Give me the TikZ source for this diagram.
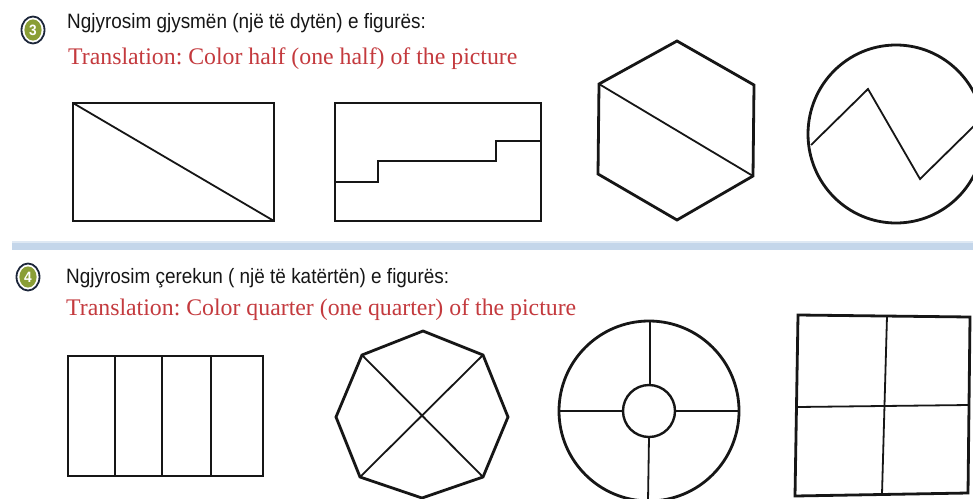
\documentclass[tikz,border=0pt]{standalone}
\usepackage{fontspec}
\setmainfont{Liberation Serif}
\setsansfont{Liberation Sans}[FakeStretch=0.91]
\definecolor{inkred}{RGB}{196,58,62}
\definecolor{inkblack}{RGB}{22,22,22}
\definecolor{badgegreen}{RGB}{138,158,54}
\definecolor{badgering}{RGB}{28,38,58}
\definecolor{bandblue}{RGB}{196,214,234}
\definecolor{bandlight}{RGB}{222,232,243}
\frenchspacing
\begin{document}
\begin{tikzpicture}[x=1pt,y=-1pt,
  outline/.style={draw=inkblack,line width=2.8pt,line join=miter},
  divline/.style={draw=inkblack,line width=1.8pt},
  blacktxt/.style={anchor=base west,inner sep=0pt,text=inkblack,font=\sffamily\fontsize{20.8}{23}\selectfont},
  redtxt/.style={anchor=base west,inner sep=0pt,text=inkred,font=\rmfamily\fontsize{23.8}{26}\selectfont},
  digit/.style={inner sep=0pt,text=white,font=\sffamily\bfseries\fontsize{15}{16}\selectfont}]
\useasboundingbox (0,0) rectangle (973,498);
\fill[white] (0,0) rectangle (973,498);
\begin{scope}
\clip (0,0) rectangle (973,498);

% ---------- exercise 3 ----------
\draw[fill=white,draw=badgering,line width=1.8pt] (33,30) ellipse [x radius=11.5, y radius=13.5];
\fill[badgegreen] (33,30) ellipse [x radius=8.6, y radius=10.6];
\node[digit] (b3) at (33,30) {3};
\node[blacktxt] (t3) at (67,28) {Ngjyrosim gjysmën (një të dytën) e figurës:};
\node[redtxt] (r3) at (68,64) {Translation: Color half (one half) of the picture};

% rectangle with diagonal
\draw[outline] (73,103) rectangle (274,221);
\draw[divline] (73,103) -- (274,221);
% rectangle with step line
\draw[outline] (335,103) rectangle (541,221);
\draw[divline] (335,182) -- (378,182) -- (378,161) -- (496,161) -- (496,141) -- (541,141);
% hexagon
\draw[outline] (677,41) -- (754,85) -- (753,176) -- (677,220) -- (598,174) -- (599,84) -- cycle;
\draw[divline] (599,84) -- (753,176);
% circle with zigzag
\draw[outline] (896,134) ellipse [x radius=88, y radius=89];
\draw[divline,line join=miter] (811,145) -- (868,89) -- (920,179) -- (976,124);

% ---------- separator ----------
\fill[bandblue] (12,241) rectangle (973,250);
\fill[bandlight] (12,241) rectangle (973,243);

% ---------- exercise 4 ----------
\draw[fill=white,draw=badgering,line width=1.8pt] (28,277) ellipse [x radius=11.5, y radius=13.5];
\fill[badgegreen] (28,277) ellipse [x radius=8.6, y radius=10.6];
\node[digit] (b4) at (28,277) {4};
\node[blacktxt] (t4) at (66,283) {Ngjyrosim çerekun ( një të katërtën) e figurës:};
\node[redtxt] (r4) at (66,315) {Translation: Color quarter (one quarter) of the picture};

% rectangle in four strips
\draw[outline] (68,356) rectangle (263,476);
\draw[divline] (115,356) -- (115,476);
\draw[divline] (162,356) -- (162,476);
\draw[divline] (211,356) -- (211,476);
% octagon with diagonals
\draw[outline] (423,331) -- (483,355) -- (508,417) -- (483,477) -- (422,498) -- (360,477) -- (336,417) -- (362,355) -- cycle;
\draw[divline] (362,355) -- (483,477);
\draw[divline] (483,355) -- (360,477);
% ring
\draw[outline] (649,411) circle [radius=90];
\draw[outline,line width=2.4pt] (649,411) circle [radius=26];
\draw[divline] (559,411) -- (623,411);
\draw[divline] (675,411) -- (739,411);
\draw[divline] (650,321) -- (650,385);
\draw[divline] (649,437) -- (648,501);
% square in four
\draw[outline] (798,315) -- (970,317) -- (968,493) -- (795,496) -- cycle;
\draw[divline] (887,316) -- (882,494);
\draw[divline] (797,407) -- (969,405);
\end{scope}
\end{tikzpicture}
\end{document}
